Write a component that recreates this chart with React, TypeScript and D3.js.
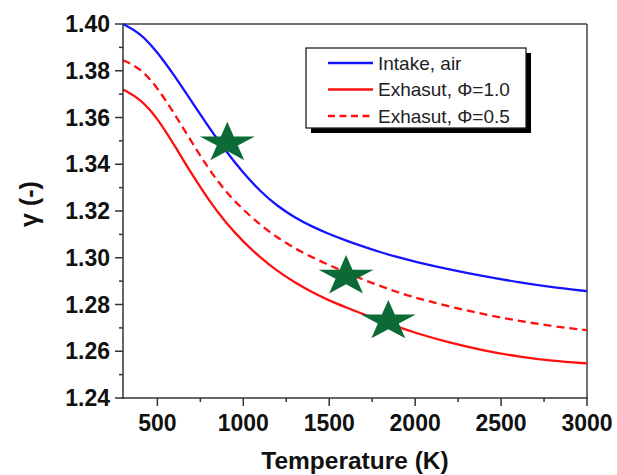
import React from "react";
import * as d3 from "d3";

// Temperature grid (K) and specific-heat ratio curves
const temperatures = [300, 400, 500, 600, 700, 800, 900, 1000, 1100, 1200, 1300, 1400, 1500, 1600, 1700, 1800, 1900, 2000, 2200, 2400, 2600, 2800, 3000];
const intakeAir = [1.4, 1.3962, 1.388, 1.3778, 1.3668, 1.3558, 1.3455, 1.3362, 1.3283, 1.322, 1.3172, 1.3133, 1.3101, 1.3073, 1.3047, 1.3023, 1.3002, 1.2983, 1.295, 1.2921, 1.2895, 1.2874, 1.2857];
const exhaustPhi10 = [1.372, 1.368, 1.3598, 1.348, 1.3358, 1.3245, 1.3148, 1.3068, 1.3, 1.2942, 1.2894, 1.2852, 1.2817, 1.2787, 1.2758, 1.2731, 1.2704, 1.2679, 1.2636, 1.2603, 1.2577, 1.2558, 1.2548];
const exhaustPhi05 = [1.3845, 1.3812, 1.3728, 1.3615, 1.3495, 1.3378, 1.328, 1.3205, 1.314, 1.3085, 1.304, 1.3002, 1.2968, 1.2936, 1.2906, 1.2878, 1.2852, 1.2829, 1.2791, 1.2758, 1.273, 1.2707, 1.269];

// Highlighted operating points
const starTemps = [907, 1598, 1844];
const starGammas = [1.3491, 1.2921, 1.2729];

const xTickValues = [500, 1000, 1500, 2000, 2500, 3000];
const xMinorValues = [750, 1250, 1750, 2250, 2750];
const yTickValues = [1.24, 1.26, 1.28, 1.3, 1.32, 1.34, 1.36, 1.38, 1.4];
const yMinorValues = [1.25, 1.27, 1.29, 1.31, 1.33, 1.35, 1.37, 1.39];

const legendLabels = ["Intake, air", "Exhasut, \u03A6=1.0", "Exhasut, \u03A6=0.5"];

const W = 617;
const H = 475;
const left = 123;
const right = 587;
const top = 24;
const bottom = 398;

export default function App() {
  const x = d3.scaleLinear().domain([300, 3000]).range([left, right]);
  const y = d3.scaleLinear().domain([1.24, 1.4]).range([bottom, top]);

  const line = (vals: number[]) =>
    d3
      .line<number>()
      .x((_, i) => x(temperatures[i]))
      .y((v) => y(v))
      .curve(d3.curveBasis)(vals) || "";

  const starPath = d3.symbol().type(d3.symbolStar).size(505)() || "";

  const font = "'Liberation Sans', Arial, sans-serif";
  const axisColor = "#333";

  const series = [
    { vals: intakeAir, color: "#1414ff", dash: undefined },
    { vals: exhaustPhi10, color: "#ff1010", dash: undefined },
    { vals: exhaustPhi05, color: "#ff1010", dash: "8,5" },
  ];

  const legX = 306;
  const legY = 48;
  const legW = 220;
  const legH = 80;

  return (
    <>
      <style>{"body{margin:0}"}</style>
      <svg width={W} height={H} style={{ display: "block", background: "#fff" }} fontFamily={font}>
        <defs>
          <clipPath id="plot-clip">
            <rect x={left} y={top - 2} width={right - left} height={bottom - top + 2} />
          </clipPath>
        </defs>

        {/* frame: top and right edges */}
        <line x1={left} x2={right} y1={top} y2={top} stroke="#444" strokeWidth={1.5} />
        <line x1={right} x2={right} y1={top} y2={bottom} stroke="#444" strokeWidth={1.5} />

        {/* curves */}
        <g clipPath="url(#plot-clip)">
          {series.map((s, i) => (
            <path key={i} d={line(s.vals)} fill="none" stroke={s.color} strokeWidth={2.3} strokeDasharray={s.dash} />
          ))}
        </g>

        {/* stars */}
        {starTemps.map((t, i) => (
          <path
            key={i}
            d={starPath}
            fill="#0b6a35"
            transform={`translate(${x(t)},${y(starGammas[i])}) scale(1.36,1)`}
          />
        ))}

        {/* y axis */}
        <line x1={left} x2={left} y1={top} y2={bottom + 0.75} stroke={axisColor} strokeWidth={1.5} />
        {yTickValues.map((v) => (
          <g key={v}>
            <line x1={left - 8} x2={left} y1={y(v)} y2={y(v)} stroke={axisColor} strokeWidth={1.5} />
            <text x={110} y={y(v) + 8} textAnchor="end" fontSize={23} fontWeight="bold" fill="#111">
              {v.toFixed(2)}
            </text>
          </g>
        ))}
        {yMinorValues.map((v) => (
          <line key={v} x1={left - 4} x2={left} y1={y(v)} y2={y(v)} stroke={axisColor} strokeWidth={1.5} />
        ))}

        {/* x axis */}
        <line x1={left - 0.75} x2={right + 0.75} y1={bottom} y2={bottom} stroke={axisColor} strokeWidth={1.5} />
        {xTickValues.map((v) => (
          <g key={v}>
            <line x1={x(v)} x2={x(v)} y1={bottom} y2={bottom + 8} stroke={axisColor} strokeWidth={1.5} />
            <text x={x(v)} y={431} textAnchor="middle" fontSize={23} fontWeight="bold" fill="#111">
              {v}
            </text>
          </g>
        ))}
        {xMinorValues.map((v) => (
          <line key={v} x1={x(v)} x2={x(v)} y1={bottom} y2={bottom + 4} stroke={axisColor} strokeWidth={1.5} />
        ))}

        {/* axis titles */}
        <text x={(left + right) / 2} y={469} textAnchor="middle" fontSize={24.5} fontWeight="bold" fill="#111">
          Temperature (K)
        </text>
        <text
          transform={`translate(38,204) rotate(-90)`}
          textAnchor="middle"
          fontSize={25}
          fontWeight="bold"
          fill="#111"
        >
          γ (-)
        </text>

        {/* legend */}
        <rect x={legX + 5} y={legY + 5} width={legW} height={legH} fill="#000" />
        <rect x={legX} y={legY} width={legW} height={legH} fill="#fff" stroke="#222" strokeWidth={1.3} />
        {legendLabels.map((label, i) => {
          const ry = 63 + i * 26.5;
          const s = series[i];
          return (
            <g key={label}>
              <line x1={328} x2={373} y1={ry} y2={ry} stroke={s.color} strokeWidth={2.3} strokeDasharray={s.dash ? "7,4.5" : undefined} />
              <text x={378} y={ry + 6.8} fontSize={19} fill="#222">
                {label}
              </text>
            </g>
          );
        })}
      </svg>
    </>
  );
}
